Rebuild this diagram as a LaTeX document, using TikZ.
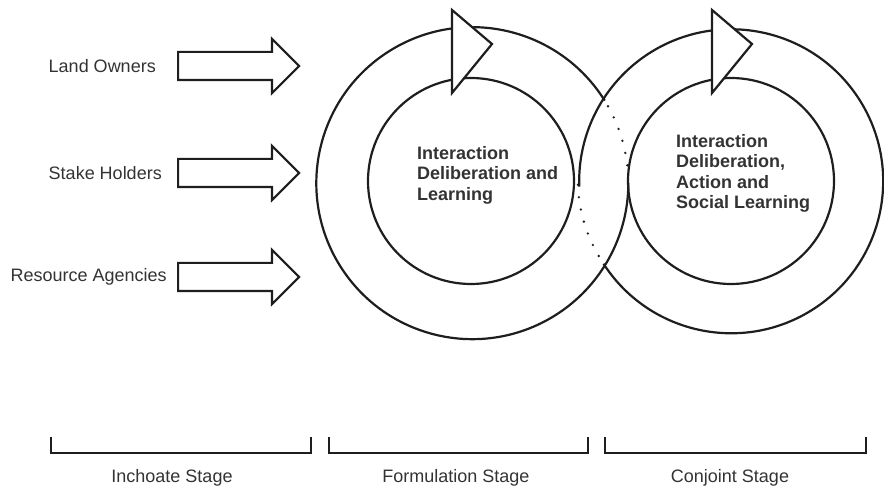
\documentclass[tikz,border=0pt]{standalone}
\usepackage{fontspec}
\setmainfont{Liberation Sans}
\usepackage{xcolor}
\usetikzlibrary{positioning,calc,shapes.arrows}
\definecolor{ink}{HTML}{1E1E1E}
\definecolor{txt}{HTML}{333333}

\begin{document}
\begin{tikzpicture}[x=1pt, y=1pt,
  rim/.style={draw=ink, line width=2.2pt},
  ring/.style={circle, inner sep=0pt, outer sep=0pt},
  dotline/.style={draw=ink, line width=2.6pt, line cap=round,
    dash pattern=on 0pt off 12.5pt, dash phase=6pt},
  tiphead/.style={rim, fill=white, line join=miter},
  inarr/.style={single arrow, draw=ink, line width=2.2pt, fill=white,
    inner sep=0pt, inner ysep=13pt, text height=0pt, text depth=0pt,
    minimum height=121pt, single arrow head extend=13pt,
    single arrow head indent=0pt, anchor=tail},
  lbl/.style={text=txt, inner sep=0pt, font=\fontsize{18}{21}\selectfont},
  ringtxt/.style={text=txt, inner sep=0pt, align=left, anchor=west,
    font=\fontsize{18}{20.4}\selectfont\bfseries},
  brk/.style={draw=ink, line width=2.4pt}]
  \useasboundingbox (0,0) rectangle (884,488);

  % Input arrows
  \node[inarr] (a1) at (177,422) {};
  \node[inarr] (a2) at (177,315) {};
  \node[inarr] (a3) at (177,211) {};
  \node[lbl, left=21pt of a1] (l1) {Land Owners};
  \node[lbl, left=15pt of a2] (l2) {Stake Holders};
  \node[lbl, left=10pt of a3] (l3) {Resource Agencies};

  % Rings
  \node[ring, minimum size=312pt] (oL) at (471,307) {};
  \node[ring, minimum size=304pt] (oR) at (731,307) {};
  \node[ring, rim, minimum size=206pt] (iL) at (oL) {};
  \node[ring, rim, minimum size=206pt] (iR) at (oR) {};

  % Outer rims, interlocked
  \draw[rim] (oL.31.93) arc[start angle=31.93, end angle=360, radius=156];
  \draw[dotline] (oL.31.93) arc[start angle=31.93, end angle=3, radius=156];
  \draw[rim] (oR.-147.12) arc[start angle=-147.12, end angle=182, radius=152];
  \draw[dotline] (oR.212.88) arc[start angle=212.88, end angle=182, radius=152];

  % Arrow heads on the rings
  \draw[tiphead] ($(oL)+(-19,171)$) -- ($(oL)+(-19,88)$) -- ($(oL)+(21,137)$) -- cycle;
  \draw[tiphead] ($(oR)+(-19,171)$) -- ($(oR)+(-19,88)$) -- ($(oR)+(21,137)$) -- cycle;

  % Ring texts
  \node[ringtxt] (tL) at (417,313) {Interaction\\Deliberation and\\Learning};
  \node[ringtxt] (tR) at (676,314.5) {Interaction\\Deliberation,\\Action and\\Social Learning};

  % Stages
  \draw[brk] (51,51) |- (311,35) -- (311,51);
  \draw[brk] (329,51) |- (588,35) -- (588,51);
  \draw[brk] (605,51) |- (866,35) -- (866,51);
  \node[lbl] (s1) at (172,10) {Inchoate Stage};
  \node[lbl] (s2) at (456,10) {Formulation Stage};
  \node[lbl] (s3) at (730,10) {Conjoint Stage};
\end{tikzpicture}
\end{document}
